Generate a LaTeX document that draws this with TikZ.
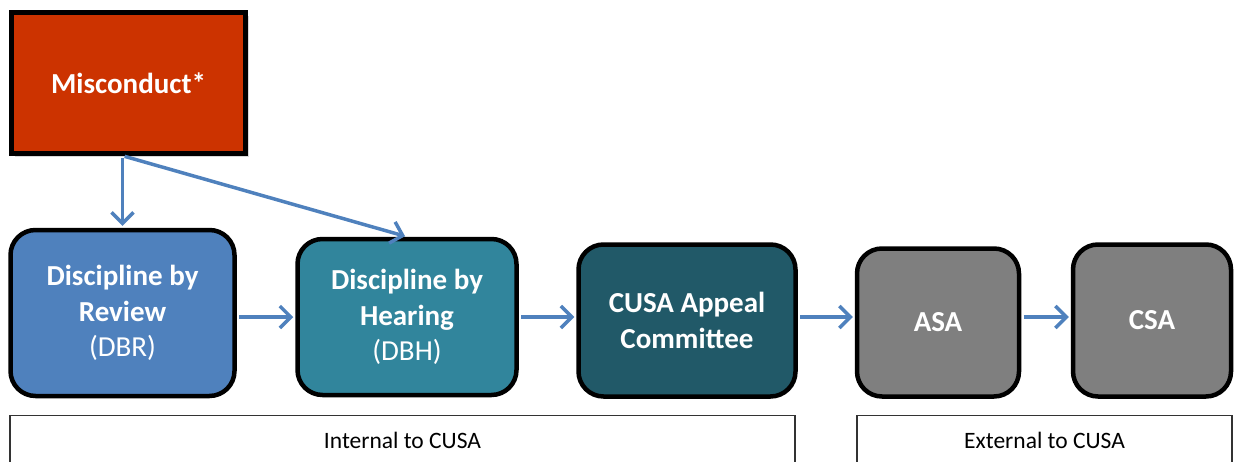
\documentclass[tikz,border=0pt]{standalone}
\usepackage{fontspec}
\setmainfont{Carlito}
\usetikzlibrary{arrows.meta,shadows}
\definecolor{misred}{HTML}{CC3300}
\definecolor{dbrblue}{HTML}{4F81BD}
\definecolor{dbhteal}{HTML}{31859C}
\definecolor{appealteal}{HTML}{215968}
\definecolor{extgray}{HTML}{7F7F7F}
\definecolor{flowblue}{HTML}{4F81BD}
\begin{document}
\begin{tikzpicture}[x=1pt,y=-1pt,
	stage/.style={draw=black,line width=4.5pt,rounded corners=25pt,text=white,align=center,inner sep=0pt,font=\fontsize{29}{35.5}\selectfont},
	flow/.style={-{Straight Barb[length=11pt,width=22pt,line width=3.5pt]},line width=3.5pt,flowblue,shorten >=2pt,shorten <=2.25pt},
	scopebox/.style={draw=black!80,line width=1.3pt,anchor=north,minimum height=50pt,font=\fontsize{23.5}{28}\selectfont}]
	\clip (0,0) rectangle (1239,461);
	% stages
	\node[stage,sharp corners,fill=misred,minimum width=234pt,minimum height=141pt,drop shadow={shadow xshift=3pt,shadow yshift=-3pt,opacity=0.3}] (mis) at (128.5,83) {\textbf{Misconduct*}};
	\node[stage,fill=dbrblue,minimum width=224pt,minimum height=166pt] (dbr) at (122.5,313) {\textbf{Discipline by}\\\textbf{Review}\\(DBR)};
	\node[stage,fill=dbhteal,minimum width=219pt,minimum height=156pt] (dbh) at (407,317) {\textbf{Discipline by}\\\textbf{Hearing}\\(DBH)};
	\node[stage,fill=appealteal,minimum width=217pt,minimum height=152pt] (appeal) at (687,320.5) {\textbf{CUSA Appeal}\\\textbf{Committee}};
	\node[stage,fill=extgray,minimum width=162pt,minimum height=148pt] (asa) at (938,322.5) {\textbf{ASA}};
	\node[stage,fill=extgray,minimum width=158pt,minimum height=152pt] (csa) at (1152,320.5) {\textbf{CSA}};
	% internal / external
	\node[scopebox,minimum width=785pt] (internal) at (402.5,415) {Internal to CUSA};
	\node[scopebox,minimum width=375pt] (external) at (1044.5,415) {External to CUSA};
	% arrows
	\coordinate (split) at (mis.south -| dbr.north);
	\draw[flow] (split) -- (dbr.north);
	\draw[flow] (split) -- (dbh.north);
	\draw[flow] (dbr.east |- dbh.west) -- (dbh.west);
	\draw[flow] (dbh.east) -- (dbh.east -| appeal.west);
	\draw[flow] (appeal.east |- dbh.east) -- (asa.west |- dbh.east);
	\draw[flow] (asa.east |- dbh.east) -- (csa.west |- dbh.east);
\end{tikzpicture}
\end{document}
